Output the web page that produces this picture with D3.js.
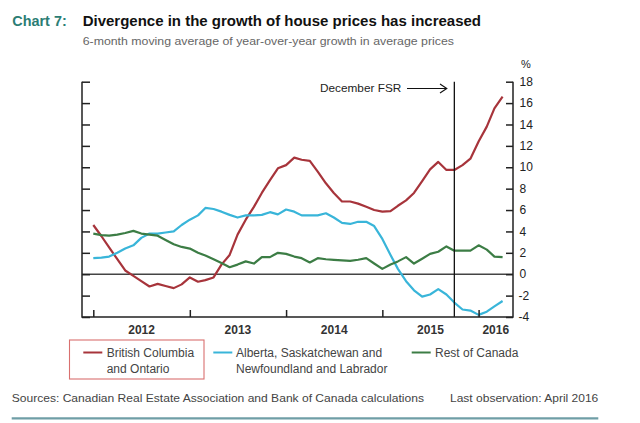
<!DOCTYPE html>
<html>
<head>
<meta charset="utf-8">
<script src="https://cdn.jsdelivr.net/npm/d3@7/dist/d3.min.js"></script>
<style>
  html, body { margin: 0; padding: 0; background: #ffffff; }
  svg { display: block; font-family: "Liberation Sans", Arial, Helvetica, sans-serif; }
</style>
</head>
<body>
<svg id="chart" width="640" height="423"></svg>
<script>
// ---------- data ----------
const startMonth = "2012-01";  // first observation
const lastMonth = "2016-04";   // last observation
const bcOntario = [4.6, 3.55, 2.5, 1.4, 0.35, -0.15, -0.65, -1.15, -0.9, -1.1,
  -1.3, -0.95, -0.3, -0.7, -0.55, -0.3, 0.9, 1.8, 3.7, 5.1,
  6.3, 7.6, 8.8, 9.9, 10.2, 10.9, 10.7, 10.6, 9.6, 8.5,
  7.6, 6.8, 6.8, 6.6, 6.3, 6.0, 5.85, 5.9, 6.4, 6.9,
  7.6, 8.7, 9.8, 10.5, 9.75, 9.75, 10.2, 10.8, 12.4, 13.8,
  15.5, 16.6];
const albertaSaskNL = [1.5, 1.55, 1.65, 2.0, 2.4, 2.7, 3.4, 3.8, 3.8, 3.9,
  4.0, 4.6, 5.1, 5.5, 6.2, 6.1, 5.85, 5.55, 5.3, 5.5,
  5.5, 5.55, 5.8, 5.6, 6.05, 5.85, 5.5, 5.5, 5.5, 5.7,
  5.3, 4.8, 4.7, 4.9, 4.9, 4.5, 3.3, 1.8, 0.5, -0.65,
  -1.5, -2.1, -1.9, -1.4, -1.9, -2.65, -3.3, -3.4, -3.8, -3.5,
  -3.0, -2.5];
const restOfCanada = [3.8, 3.65, 3.6, 3.7, 3.85, 4.05, 3.8, 3.7, 3.6, 3.2,
  2.8, 2.55, 2.4, 2.0, 1.75, 1.4, 1.05, 0.65, 0.9, 1.2,
  1.0, 1.6, 1.6, 2.0, 1.9, 1.65, 1.5, 1.1, 1.5, 1.4,
  1.35, 1.3, 1.25, 1.35, 1.5, 1.0, 0.5, 0.9, 1.2, 1.6,
  1.0, 1.45, 1.9, 2.1, 2.6, 2.2, 2.2, 2.2, 2.7, 2.3,
  1.65, 1.6];
const yearTicks = ["2012", "2013", "2014", "2015", "2016"];
const yTicks = [-4, -2, 0, 2, 4, 6, 8, 10, 12, 14, 16, 18];
const seriesNames = ["British Columbia\nand Ontario", "Alberta, Saskatchewan and\nNewfoundland and Labrador", "Rest of Canada"];
const fsrDate = "2015-10";
const titleLabel = "Chart 7:";
const titleText = "Divergence in the growth of house prices has increased";
const subtitleText = "6-month moving average of year-over-year growth in average prices";
const sourceText = "Sources: Canadian Real Estate Association and Bank of Canada calculations";
const lastObsText = "Last observation: April 2016";
const fsrText = "December FSR";

// ---------- setup ----------
const parseM = d3.timeParse("%Y-%m");
const t0 = parseM(startMonth);
const dates = d3.range(bcOntario.length).map(i => d3.timeMonth.offset(t0, i));
const series = [
  { name: seriesNames[0], values: bcOntario, color: "#a7343b" },
  { name: seriesNames[1], values: albertaSaskNL, color: "#39b5d9" },
  { name: seriesNames[2], values: restOfCanada, color: "#3c7d45" }
];

const svg = d3.select("#chart");
const plotLeft = 82, plotRight = 513, plotTop = 81.7, plotBottom = 317;

const x = d3.scaleTime()
  .domain([new Date(2012, 0, 1), new Date(2016, 0, 1)])
  .range([93.3, 478.6]);
const y = d3.scaleLinear().domain([-4, 18]).range([plotBottom, plotTop]);

const FONT = "'Liberation Sans', Arial, Helvetica, sans-serif";

function fit(sel, w) {
  const n = sel.node();
  const cur = n.getComputedTextLength();
  if (Math.abs(cur - w) > 1) sel.attr("textLength", w).attr("lengthAdjust", "spacingAndGlyphs");
  return sel;
}

// ---------- titles ----------
fit(svg.append("text").attr("x", 12.3).attr("y", 26).text(titleLabel)
  .attr("font-size", 15.5).attr("font-weight", "bold").attr("fill", "#2b7d74"), 54.4);
fit(svg.append("text").attr("x", 82.7).attr("y", 26).text(titleText)
  .attr("font-size", 15.5).attr("font-weight", "bold").attr("fill", "#111"), 398.3);
fit(svg.append("text").attr("x", 82.7).attr("y", 44.5).text(subtitleText)
  .attr("font-size", 10.8).attr("fill", "#666"), 371.3);

// ---------- zero line ----------
svg.append("line")
  .attr("x1", plotLeft).attr("x2", plotRight)
  .attr("y1", y(0)).attr("y2", y(0))
  .attr("stroke", "#444").attr("stroke-width", 1.5);

// ---------- series ----------
const line = d3.line()
  .x((d, i) => x(dates[i]))
  .y(d => y(d))
  .curve(d3.curveLinear);

svg.append("g").selectAll("path")
  .data(series)
  .join("path")
  .attr("d", s => line(s.values))
  .attr("fill", "none")
  .attr("stroke", s => s.color)
  .attr("stroke-width", 2.2)
  .attr("stroke-linejoin", "round");

// ---------- FSR marker ----------
const fx = x(parseM(fsrDate));
svg.append("line")
  .attr("x1", fx).attr("x2", fx).attr("y1", plotTop).attr("y2", plotBottom)
  .attr("stroke", "#111").attr("stroke-width", 1.3);
fit(svg.append("text").attr("x", 320).attr("y", 91.5).text(fsrText)
  .attr("font-size", 11.8).attr("fill", "#222"), 81.7);
svg.append("line").attr("x1", 407).attr("x2", 446.5).attr("y1", 88.5).attr("y2", 88.5)
  .attr("stroke", "#111").attr("stroke-width", 1.1);
svg.append("path").attr("d", `M440,84 L446.8,88.5 L440,93`)
  .attr("fill", "none").attr("stroke", "#111").attr("stroke-width", 1.1);

// ---------- axes ----------
const axisColor = "#222";
// left axis
const gl = svg.append("g").attr("transform", `translate(${plotLeft},0)`)
  .call(d3.axisRight(y).tickValues(yTicks).tickSize(8).tickFormat(""));
// right axis
const gr = svg.append("g").attr("transform", `translate(${plotRight},0)`)
  .call(d3.axisLeft(y).tickValues(yTicks).tickSize(7).tickFormat(""));
// bottom axis
const yearDates = yearTicks.map(s => new Date(+s, 0, 1));
const gb = svg.append("g").attr("transform", `translate(0,${plotBottom})`)
  .call(d3.axisTop(x).tickValues(yearDates).tickSize(7).tickFormat(""));
[gl, gr, gb].forEach(g => {
  g.select(".domain").remove();
  g.selectAll(".tick line").attr("stroke", axisColor).attr("stroke-width", 1.5);
});
svg.append("path")
  .attr("d", `M${plotLeft},${plotTop}V${plotBottom}H${plotRight}V${plotTop}`)
  .attr("fill", "none").attr("stroke", axisColor).attr("stroke-width", 1.5);

// right tick labels
svg.append("g").selectAll("text").data(yTicks).join("text")
  .attr("x", d => d < 0 ? 518.5 : 519.5)
  .attr("y", d => y(d) + 4.2)
  .attr("font-size", 12).attr("fill", "#222")
  .text(d => d);
svg.append("text").attr("x", 521).attr("y", 68).attr("font-size", 11).attr("fill", "#222").text("%");

// year labels, centered within each year's span (clipped to plot)
svg.append("g").selectAll("text").data(yearTicks).join("text")
  .attr("x", s => {
    const a = Math.max(plotLeft, x(new Date(+s, 0, 1)));
    const b = Math.min(plotRight, x(new Date(+s + 1, 0, 1)));
    return (a + b) / 2;
  })
  .attr("y", 333.5)
  .attr("text-anchor", "middle")
  .attr("font-size", 12).attr("font-weight", "bold").attr("fill", "#333")
  .text(s => s);

// ---------- legend ----------
const legendPos = [
  { lx: 83.3, tx: 106.7 },
  { lx: 213.3, tx: 236 },
  { lx: 411.7, tx: 435 }
];
svg.append("rect").attr("x", 69.5).attr("y", 340).attr("width", 134.5).attr("height", 39)
  .attr("fill", "none").attr("stroke", "#d9706f").attr("stroke-width", 1.1);
const lg = svg.append("g").selectAll("g").data(series).join("g");
lg.append("line")
  .attr("x1", (d, i) => legendPos[i].lx).attr("x2", (d, i) => legendPos[i].lx + 19)
  .attr("y1", 352.5).attr("y2", 352.5)
  .attr("stroke", d => d.color).attr("stroke-width", 2);
lg.each(function (d, i) {
  const lines = d.name.split("\n");
  const g = d3.select(this);
  lines.forEach((t, k) => {
    g.append("text").attr("x", legendPos[i].tx).attr("y", 356.5 + k * 16)
      .attr("font-size", 12).attr("fill", "#444").text(t);
  });
});

// ---------- footer ----------
fit(svg.append("text").attr("x", 11.7).attr("y", 401.5).text(sourceText)
  .attr("font-size", 11.5).attr("fill", "#444"), 412.3);
fit(svg.append("text").attr("x", 450).attr("y", 401.5).text(lastObsText)
  .attr("font-size", 11.5).attr("fill", "#444"), 148.3);
svg.append("line").attr("x1", 11.7).attr("x2", 598.3).attr("y1", 418.3).attr("y2", 418.3)
  .attr("stroke", "#6f9ea6").attr("stroke-width", 2.2);
</script>
</body>
</html>
